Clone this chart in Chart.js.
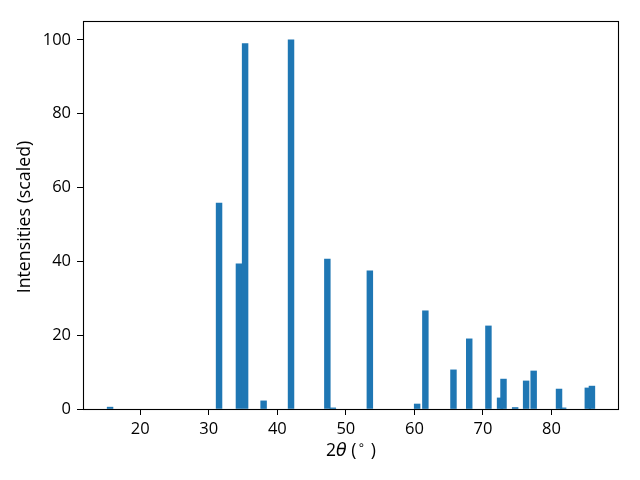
<!DOCTYPE html>
<html>
<head>
<meta charset="utf-8">
<script src="https://cdn.jsdelivr.net/npm/chart.js@4"></script>
<style>
  html, body { margin: 0; padding: 0; background: #fff; }
  #wrap { width: 640px; height: 480px; position: relative; }
</style>
</head>
<body>
<div id="wrap"><canvas id="c" width="640" height="480"></canvas></div>
<script>
// Peak positions (2θ, degrees)
const twoTheta = [15.6, 31.5, 34.4, 35.3, 38.0, 42.0, 47.3, 48.1, 53.5, 60.4, 61.6, 65.7, 68.0, 70.8, 72.5, 73.0, 74.7, 76.3, 77.4, 81.1, 81.7, 85.3, 85.9];
// Scaled intensities
const intensities = [0.5, 55.8, 39.3, 99.0, 2.2, 100, 40.6, 0.3, 37.4, 1.35, 26.6, 10.6, 19.0, 22.5, 3.0, 8.1, 0.4, 7.6, 10.3, 5.4, 0.3, 5.7, 6.2];
// Tick labels
const xTickValues = [20, 30, 40, 50, 60, 70, 80];
const yTickValues = [0, 20, 40, 60, 80, 100];
const xLabel = ['2', 'θ', ' (', '∘', ' )'];
const yLabel = 'Intensities (scaled)';

const FONT = '"Open Sans", "DejaVu Sans", sans-serif';
const FS = 16.5;

const points = twoTheta.map((x, i) => ({ x: x, y: intensities[i] }));

const framePlugin = {
  id: 'frame',
  afterDraw(chart) {
    const ctx = chart.ctx;
    const a = chart.chartArea;
    ctx.save();
    ctx.strokeStyle = '#000';
    ctx.lineWidth = 1.1;
    ctx.strokeRect(Math.round(a.left) + 0.5, Math.round(a.top) + 0.5,
                   Math.round(a.right - a.left) - 1, Math.round(a.bottom - a.top));
    // y label
    ctx.fillStyle = '#000';
    ctx.font = '17.8px ' + FONT;
    ctx.textAlign = 'center';
    ctx.textBaseline = 'middle';
    ctx.translate(25, (a.top + a.bottom) / 2 + 2);
    ctx.rotate(-Math.PI / 2);
    ctx.fillText(yLabel, 0, 0);
    ctx.restore();

    // x label with italic theta and superscript circle
    ctx.save();
    ctx.fillStyle = '#000';
    ctx.textBaseline = 'alphabetic';
    ctx.textAlign = 'left';
    const fonts = [
      '17.5px ' + FONT,
      'italic 17.5px "DejaVu Sans", sans-serif',
      '17.5px ' + FONT,
      (17.5 * 0.7) + 'px "DejaVu Sans", sans-serif',
      '17.5px ' + FONT
    ];
    const dy = [0, 0, 0, -7, 0];
    const extra = [0, 0, 1, 1, 0];
    let widths = xLabel.map((t, i) => { ctx.font = fonts[i]; return ctx.measureText(t).width + extra[i]; });
    const total = widths.reduce((s, w) => s + w, 0);
    let x = (a.left + a.right) / 2 - total / 2;
    const base = 456;
    xLabel.forEach((t, i) => {
      ctx.font = fonts[i];
      ctx.fillText(t, x, base + dy[i]);
      x += widths[i];
    });
    ctx.restore();
  }
};

new Chart(document.getElementById('c'), {
  type: 'bar',
  data: {
    datasets: [{
      data: points,
      backgroundColor: '#1f77b4',
      borderWidth: 0,
      barThickness: 5.8
    }]
  },
  options: {
    responsive: false,
    animation: false,
    devicePixelRatio: 1,
    layout: { padding: { left: 0, top: 21, right: 21, bottom: 0 } },
    plugins: { legend: { display: false }, tooltip: { enabled: false } },
    scales: {
      x: {
        type: 'linear',
        min: 11.65,
        max: 89.85,
        offset: false,
        afterFit(s) { s.height = 71; },
        afterBuildTicks(s) { s.ticks = xTickValues.map(v => ({ value: v })); },
        grid: { drawOnChartArea: false, drawTicks: true, tickLength: 6, color: '#000', offset: false },
        border: { display: false },
        ticks: { color: '#000', font: { family: FONT, size: FS }, padding: 4, maxRotation: 0, autoSkip: false,
                 callback: v => String(v) }
      },
      y: {
        type: 'linear',
        min: 0,
        max: 105.1,
        afterFit(s) { s.width = 83; },
        afterBuildTicks(s) { s.ticks = yTickValues.map(v => ({ value: v })); },
        grid: { drawOnChartArea: false, drawTicks: true, tickLength: 6, color: '#000' },
        border: { display: false },
        ticks: { color: '#000', font: { family: FONT, size: FS }, padding: 6, autoSkip: false,
                 callback: v => String(v) }
      }
    }
  },
  plugins: [framePlugin]
});
</script>
</body>
</html>
